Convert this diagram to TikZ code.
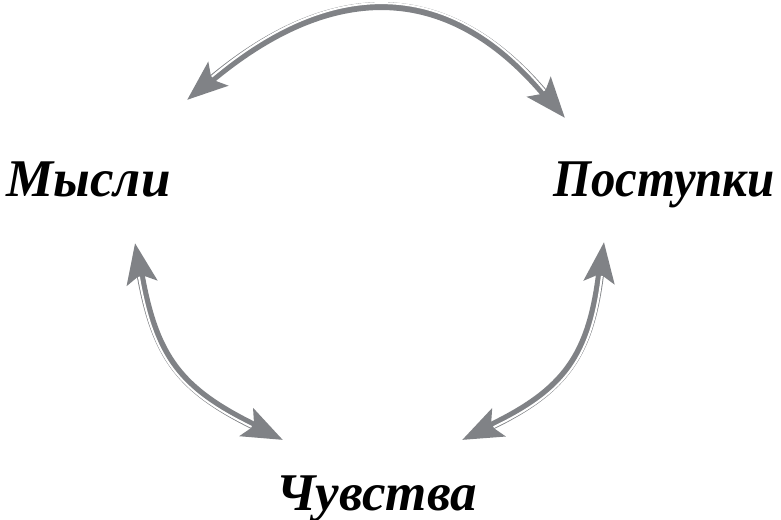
\documentclass[tikz,border=0pt]{standalone}
\usepackage{fontspec}
\setmainfont{Liberation Serif}
\usetikzlibrary{arrows.meta, positioning, calc}
\definecolor{cArrow}{RGB}{128,130,134}
\tikzset{
	word/.style ={font=\fontsize{26.5}{30}\selectfont\bfseries\itshape, inner sep=0pt, anchor=base},
	link/.style ={{Stealth[length=20pt, width=15pt, inset=4pt]}-{Stealth[length=20pt, width=15pt, inset=4pt]}, line width=4pt, draw=cArrow},
	% white stripe along the outer side of each arrow
	gleam/.style={draw=white, line width=1pt, shorten <=17pt, shorten >=17pt},
}
\begin{document}
\begin{tikzpicture}[x=0.5pt, y=0.5pt]
	\useasboundingbox (0,0) rectangle (781,519);
	\node[word] (mysl) at (88.5,322) {Мысли};
	\node[word, xscale=0.92, transform shape] (post) at (664,322) {Поступки};
	\node[word] (chuv) at (376.5,9) {Чувства};
	% top
	\draw[link] ([shift={(98.5,97)}]mysl.base) to[out=40, in=130, looseness=1.25] ([shift={(-99,79)}]post.base);
	\draw[gleam] ([shift={(97.2,98.5)}]mysl.base) to[out=40, in=130, looseness=1.25] ([shift={(-97.5,80.3)}]post.base);
	% left
	\draw[link] ([shift={(46.5,-46)}]mysl.base) to[out=-80, in=154, looseness=1.2] ([shift={(-93.5,70)}]chuv.base);
	\draw[gleam] ([shift={(44.5,-46.3)}]mysl.base) to[out=-80, in=154, looseness=1.2] ([shift={(-94.4,68.2)}]chuv.base);
	% right
	\draw[link] ([shift={(-60,-45)}]post.base) to[out=-97, in=25.6, looseness=1.2] ([shift={(85.5,70)}]chuv.base);
	\draw[gleam] ([shift={(-58,-45.2)}]post.base) to[out=-97, in=25.6, looseness=1.2] ([shift={(86.4,68.2)}]chuv.base);
\end{tikzpicture}
\end{document}
